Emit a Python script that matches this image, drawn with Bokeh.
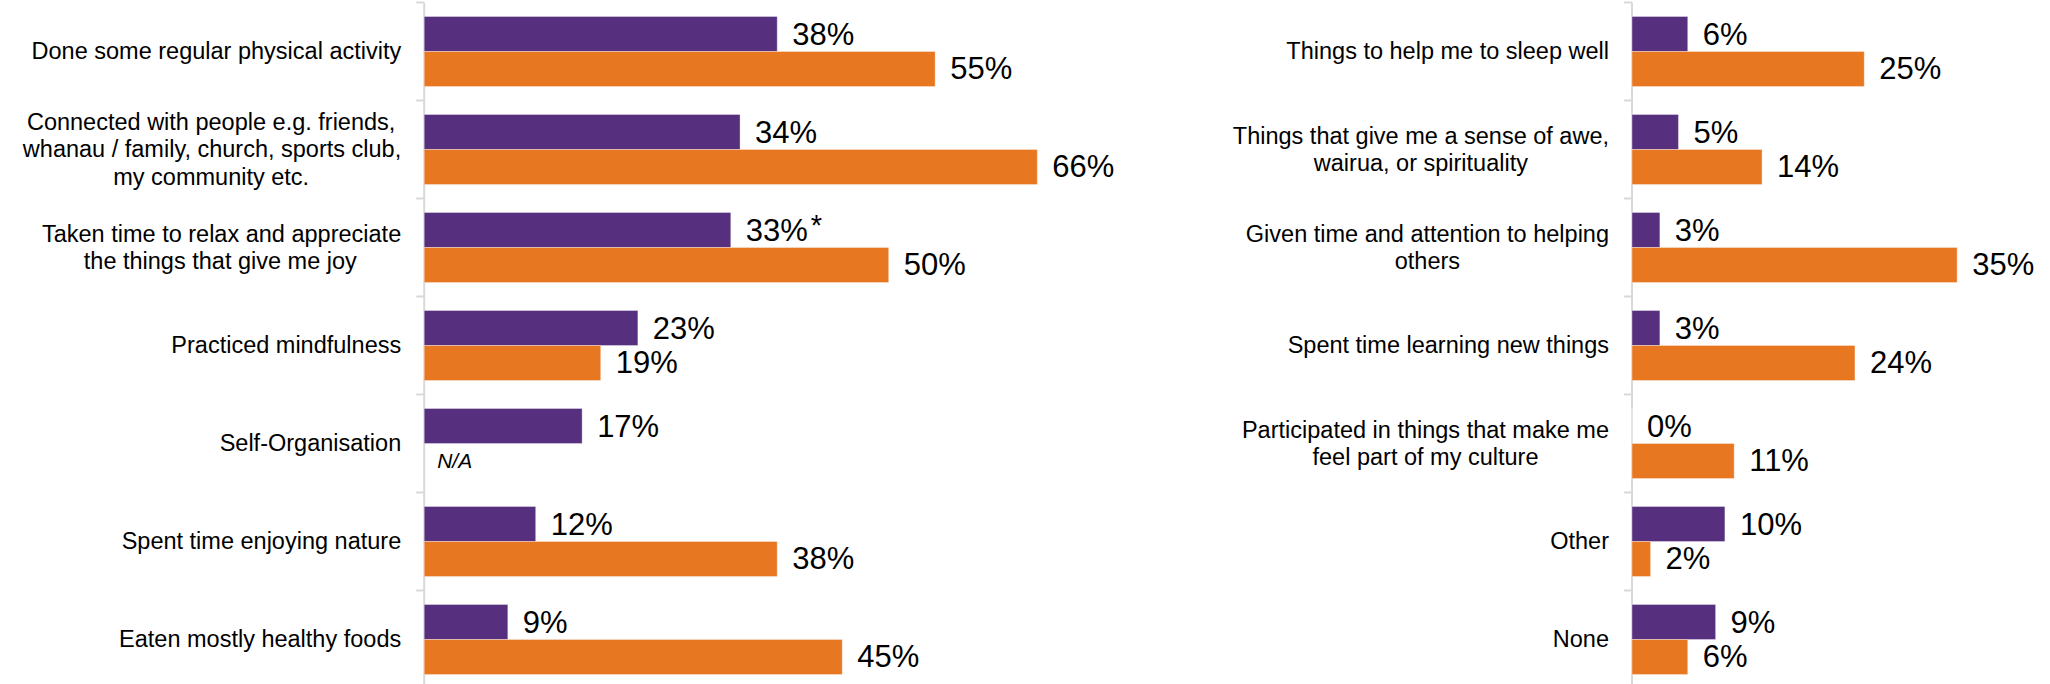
from bokeh.plotting import figure
from bokeh.layouts import row
from bokeh.models import Range1d, ColumnDataSource
from bokeh.embed import file_html
from bokeh.resources import INLINE
from bokeh.core.properties import value

# ---------------- data ----------------
left_categories = [
    "Done some regular physical activity",
    "Connected with people e.g. friends,\nwhanau / family, church, sports club,\nmy community etc.",
    "Taken time to relax and appreciate\nthe things that give me joy",
    "Practiced mindfulness",
    "Self-Organisation",
    "Spent time enjoying nature",
    "Eaten mostly healthy foods",
]
left_purple = [38, 34, 33, 23, 17, 12, 9]
left_orange = [55, 66, 50, 19, None, 38, 45]
left_notes = ["", "", "*", "", "", "", ""]

right_categories = [
    "Things to help me to sleep well",
    "Things that give me a sense of awe,\nwairua, or spirituality",
    "Given time and attention to helping\nothers",
    "Spent time learning new things",
    "Participated in things that make me\nfeel part of my culture",
    "Other",
    "None",
]
right_purple = [6, 5, 3, 3, 0, 10, 9]
right_orange = [25, 14, 35, 24, 11, 2, 6]
right_notes = ["", "", "", "", "", "", ""]

missing_text = "N/A"

# ---------------- style ----------------
PURPLE = "#56307f"
ORANGE = "#e87722"
AXIS_COLOR = "#d9d9d9"
FONT = "Liberation Sans"
PX_PER_PCT = 9.29
PLOT_H = 684
BAND_PX = 98.0
Y_TOP = -0.0204
CAT_SIZE = 23.5
VAL_SIZE = 31
NA_SIZE = 21
LINE_PX = 27.7
LABEL_GAP = 23
VAL_GAP = 15
BAR_H = 0.357
PURPLE_C = 0.3215
ORANGE_C = 0.6785

# Arial / Liberation Sans advance widths (per 1000 em)
_W = {" ": 278, ",": 278, ".": 278, "/": 278, "-": 333, "%": 889, "*": 389,
      "a": 556, "b": 556, "c": 500, "d": 556, "e": 556, "f": 278, "g": 556, "h": 556,
      "i": 222, "j": 222, "k": 500, "l": 222, "m": 833, "n": 556, "o": 556, "p": 556,
      "q": 556, "r": 333, "s": 500, "t": 278, "u": 556, "v": 500, "w": 722, "x": 500,
      "y": 500, "z": 500, "A": 667, "C": 722, "D": 722, "E": 667, "G": 778, "N": 722,
      "O": 778, "P": 667, "S": 667, "T": 611}


def text_w(s, size):
    return sum(_W.get(c, 556) for c in s) / 1000.0 * size


def panel(cats, purple, orange, notes, width, axis_px):
    n = len(cats)
    p = figure(width=width, height=PLOT_H, output_backend="svg", toolbar_location=None,
               x_range=Range1d(-axis_px / PX_PER_PCT, (width - axis_px) / PX_PER_PCT),
               y_range=Range1d(Y_TOP + PLOT_H / BAND_PX, Y_TOP),
               x_axis_location=None, y_axis_location=None, min_border=0,
               outline_line_color=None, tools="")
    for g in p.grid:
        g.visible = False
    p.background_fill_color = "white"
    p.border_fill_color = "white"

    # axis line and ticks
    p.segment(x0=[0], y0=[0], x1=[0], y1=[n], line_color=AXIS_COLOR, line_width=2)
    ticks = list(range(n + 1))
    p.segment(x0=[0] * len(ticks), y0=ticks, x1=[-8 / PX_PER_PCT] * len(ticks), y1=ticks,
              line_color=AXIS_COLOR, line_width=2)

    # bars
    pys = [i + PURPLE_C for i in range(n)]
    oys = [i + ORANGE_C for i in range(n)]
    ps = ColumnDataSource(dict(y=pys, right=purple, label=[f"{v}%" for v in purple]))
    ov = [(y, v) for y, v in zip(oys, orange) if v is not None]
    os_ = ColumnDataSource(dict(y=[t[0] for t in ov], right=[t[1] for t in ov],
                                label=[f"{t[1]}%" for t in ov]))
    p.hbar(y="y", left=0, right="right", height=BAR_H, source=ps, fill_color=PURPLE,
           line_color="white", line_alpha=0.35, line_width=1)
    p.hbar(y="y", left=0, right="right", height=BAR_H, source=os_, fill_color=ORANGE,
           line_color="white", line_alpha=0.35, line_width=1)

    # value labels
    for src in (ps, os_):
        p.text(x="right", y="y", text="label", source=src, x_offset=VAL_GAP,
               text_font=value(FONT), text_font_size=f"{VAL_SIZE}px",
               text_baseline="middle", text_align="left", text_color="#000000")

    # notes (e.g. asterisk)
    nx, ny, nt, no = [], [], [], []
    for v, y, note in zip(purple, pys, notes):
        if note:
            nx.append(v); ny.append(y); nt.append(note)
            no.append(VAL_GAP + text_w(f"{v}%", VAL_SIZE) + 3)
    if nt:
        p.text(x=nx, y=ny, text=nt, x_offset=no, y_offset=-5,
               text_font=value(FONT), text_font_size=f"{VAL_SIZE - 2}px",
               text_baseline="middle", text_align="left", text_color="#000000")

    # missing values
    mx = [0 for v in orange if v is None]
    my = [y for y, v in zip(oys, orange) if v is None]
    if my:
        p.text(x=mx, y=my, text=[missing_text] * len(my), x_offset=13,
               text_font=value(FONT), text_font_size=f"{NA_SIZE}px", text_font_style="italic",
               text_baseline="middle", text_align="left", text_color="#000000")

    # category labels (lines centered within a right-aligned block)
    lx, ly, lt, lxo, lyo = [], [], [], [], []
    for i, cat in enumerate(cats):
        lines = cat.split("\n")
        bw = max(text_w(l, CAT_SIZE) for l in lines)
        for k, line in enumerate(lines):
            lx.append(0)
            ly.append(i + 0.5)
            lt.append(line)
            lxo.append(-LABEL_GAP - (bw - text_w(line, CAT_SIZE)) / 2.0)
            lyo.append((k - (len(lines) - 1) / 2.0) * LINE_PX)
    p.text(x=lx, y=ly, text=lt, x_offset=lxo, y_offset=lyo,
           text_font=value(FONT), text_font_size=f"{CAT_SIZE}px",
           text_baseline="middle", text_align="right", text_color="#000000")
    return p


left = panel(left_categories, left_purple, left_orange, left_notes, 1158, 423.7)
right = panel(right_categories, right_purple, right_orange, right_notes, 892, 473.5)

layout = row(left, right, spacing=0)
open("out.html", "w").write(file_html(layout, INLINE))
